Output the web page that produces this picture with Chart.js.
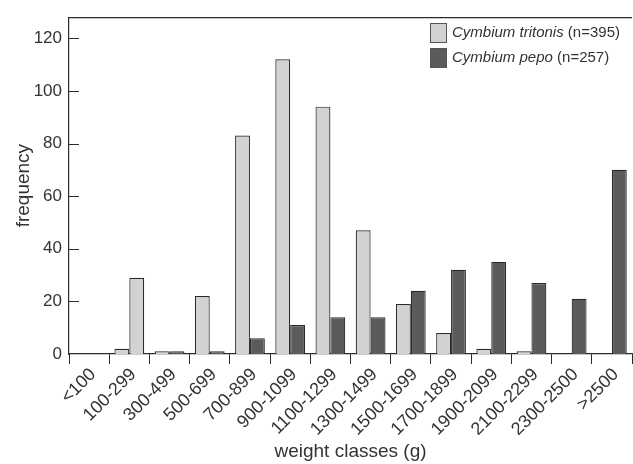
<!DOCTYPE html>
<html>
<head>
<meta charset="utf-8">
<script src="https://cdn.jsdelivr.net/npm/chart.js@4/dist/chart.umd.min.js"></script>
<style>
  html, body { margin: 0; padding: 0; background: #fff; }
</style>
</head>
<body>
<canvas id="weights" width="633" height="464"></canvas>
<script>
// weight classes and counts
const weightClasses = ["<100", "100-299", "300-499", "500-699", "700-899", "900-1099", "1100-1299",
  "1300-1499", "1500-1699", "1700-1899", "1900-2099", "2100-2299", "2300-2500", ">2500"];
const tritonis = [0, 2, 1, 22, 83, 112, 94, 47, 19, 8, 2, 1, 0, 0];
const pepo = [0, 29, 1, 1, 6, 11, 14, 14, 24, 32, 35, 27, 21, 70];
const yTicks = [0, 20, 40, 60, 80, 100, 120];
const legendItems = [
  { name: "Cymbium tritonis", n: "(n=395)" },
  { name: "Cymbium pepo", n: "(n=257)" }
];

const LIGHT = "#d2d2d2";
const DARK = "#5b5b5b";
const EDGE = "#2b2b2b";
const INK = "#333";
const FONT = "'Liberation Sans', Arial, sans-serif";

// the 100-299 tall bar is printed light in the original
const pepoColors = pepo.map((v, i) => (i === 1 ? LIGHT : DARK));
// empty classes get no outline
const edgeWidth = c => (c.raw === 0 ? 0 : 1.2);

const frame = {
  id: "frame",
  afterDraw(chart) {
    const { ctx, chartArea: a, scales } = chart;
    ctx.save();
    ctx.strokeStyle = EDGE;
    ctx.lineWidth = 1.2;
    // top border
    ctx.beginPath();
    ctx.moveTo(a.left, a.top + 0.5);
    ctx.lineTo(a.right, a.top + 0.5);
    ctx.stroke();
    // inward y ticks (0 sits on the axis)
    ctx.lineWidth = 1;
    yTicks.filter(v => v > 0).forEach(v => {
      const y = Math.round(scales.y.getPixelForValue(v)) + 0.5;
      ctx.beginPath();
      ctx.moveTo(a.left, y);
      ctx.lineTo(a.left + 10, y);
      ctx.stroke();
    });
    // legend
    const colors = [LIGHT, DARK];
    const bx = 430, by = 23, gap = 25;
    legendItems.forEach((it, i) => {
      const y = by + i * gap;
      ctx.fillStyle = colors[i];
      ctx.fillRect(bx, y, 16, 19);
      ctx.strokeStyle = "#555";
      ctx.strokeRect(bx + 0.5, y + 0.5, 16, 19);
      ctx.fillStyle = INK;
      ctx.textBaseline = "middle";
      ctx.font = "italic 15px " + FONT;
      ctx.fillText(it.name, bx + 22, y + 10);
      const w = ctx.measureText(it.name + " ").width;
      ctx.font = "15px " + FONT;
      ctx.fillText(it.n, bx + 22 + w, y + 10);
    });
    ctx.restore();
  }
};

new Chart(document.getElementById("weights"), {
  type: "bar",
  data: {
    labels: weightClasses,
    datasets: [
      { label: "Cymbium tritonis (n=395)", data: tritonis, backgroundColor: LIGHT, borderColor: EDGE, borderWidth: edgeWidth },
      { label: "Cymbium pepo (n=257)", data: pepo, backgroundColor: pepoColors, borderColor: EDGE, borderWidth: edgeWidth }
    ]
  },
  options: {
    responsive: false,
    animation: false,
    layout: { padding: { top: 13, right: 1, left: 0, bottom: 0 } },
    datasets: { bar: { categoryPercentage: 0.74, barPercentage: 1 } },
    plugins: { legend: { display: false }, tooltip: { enabled: false } },
    scales: {
      x: {
        afterFit(s) { s.height = 110; },
        grid: { display: true, offset: true, drawOnChartArea: false, drawTicks: true, tickLength: 10, color: EDGE },
        border: { display: true, color: EDGE, width: 1.2 },
        ticks: { minRotation: 45, maxRotation: 45, autoSkip: false, padding: 0, labelOffset: 4, color: INK, font: { family: FONT, size: 18 } },
        title: { display: true, text: "weight classes (g)", color: INK, font: { family: FONT, size: 19 }, padding: { top: 0, bottom: 1 } }
      },
      y: {
        min: 0,
        max: 128,
        afterFit(s) { s.width = 69; },
        afterBuildTicks(s) { s.ticks = yTicks.map(v => ({ value: v })); },
        grid: { display: false, drawTicks: false },
        border: { display: true, color: EDGE, width: 1.2 },
        ticks: { padding: 7, color: INK, font: { family: FONT, size: 17 } },
        title: { display: true, text: "frequency", color: INK, font: { family: FONT, size: 19 }, padding: { top: 12, bottom: 0 } }
      }
    }
  },
  plugins: [frame]
});
</script>
</body>
</html>
